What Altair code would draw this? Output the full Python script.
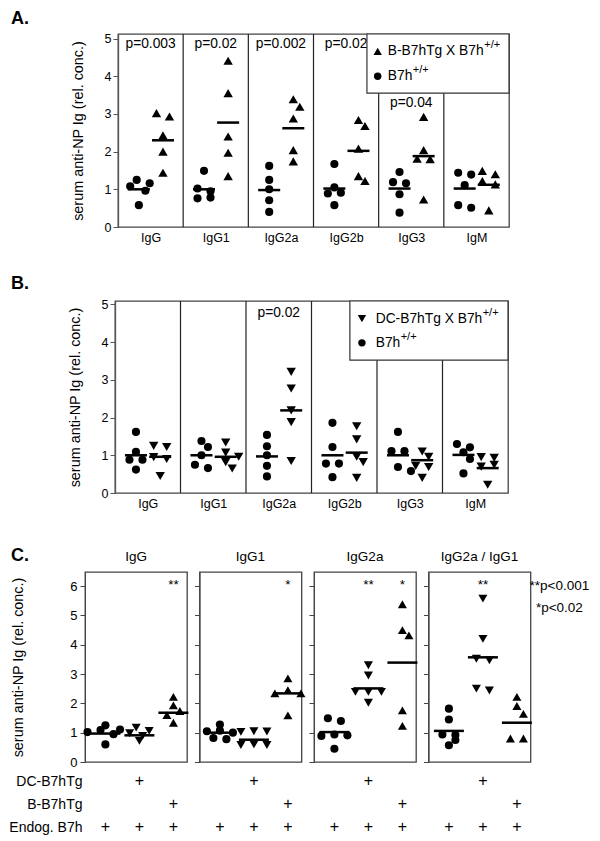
import altair as alt
import pandas as pd

FONT = "Liberation Sans"

# ---------------- data ----------------
categories = ["IgG", "IgG1", "IgG2a", "IgG2b", "IgG3", "IgM"]

# Panel A : B7h+/+ (circles) vs B-B7hTg X B7h+/+ (up triangles)
a_wt = [
    [1.25, 1.16, 1.08, 0.96, 0.58],
    [1.49, 1.02, 0.95, 0.78, 0.76],
    [1.62, 1.25, 1.00, 0.71, 0.40],
    [1.67, 1.05, 0.91, 0.89, 0.58],
    [1.46, 1.19, 1.16, 0.87, 0.38],
    [1.44, 1.39, 1.11, 0.58, 0.51],
]
a_wt_mean = [1.00, 1.00, 0.98, 1.02, 1.02, 1.02]
a_tg = [
    [3.02, 2.93, 2.43, 2.00, 1.44],
    [4.41, 3.55, 2.40, 1.97, 1.35],
    [3.39, 3.19, 2.88, 2.04, 1.74],
    [2.84, 2.68, 2.08, 1.35, 1.22],
    [2.92, 2.04, 1.81, 1.80, 0.73],
    [1.49, 1.40, 1.22, 1.13, 0.44],
]
a_tg_mean = [2.30, 2.77, 2.62, 2.02, 1.88, 1.12]
a_pvals = ["p=0.003", "p=0.02", "p=0.002", "p=0.02", "p=0.04", ""]
a_pval_y = [4.85, 4.85, 4.85, 4.85, 3.28, 0]
a_legend = ["B-B7hTg X B7h", "B7h"]

# Panel B : B7h+/+ (circles) vs DC-B7hTg X B7h+/+ (down triangles)
b_wt = [
    [1.62, 1.09, 0.88, 0.88, 0.62],
    [1.38, 1.22, 1.00, 0.75, 0.66],
    [1.54, 1.24, 1.00, 0.72, 0.44],
    [1.86, 1.22, 0.78, 0.78, 0.42],
    [1.62, 1.11, 1.11, 0.69, 0.58],
    [1.30, 1.21, 1.08, 0.90, 0.52],
]
b_wt_mean = [1.00, 1.00, 0.97, 1.00, 1.00, 1.01]
b_tg = [
    [1.25, 1.22, 0.95, 0.90, 0.45],
    [1.34, 1.07, 0.96, 0.82, 0.65],
    [3.21, 2.77, 2.19, 1.88, 0.85],
    [1.77, 1.42, 0.96, 0.82, 0.40],
    [1.10, 0.96, 0.72, 0.69, 0.40],
    [0.95, 0.93, 0.75, 0.70, 0.22],
]
b_tg_mean = [0.96, 0.96, 2.19, 1.07, 0.87, 0.66]
b_pvals = ["", "", "p=0.02", "", "", ""]
b_pval_y = [0, 0, 4.76, 0, 0, 0]
b_legend = ["DC-B7hTg X B7h", "B7h"]

# Panel C
c_titles = ["IgG", "IgG1", "IgG2a", "IgG2a / IgG1"]
c_wt = [
    [1.25, 1.11, 1.09, 1.02, 0.95, 0.60],
    [1.28, 1.07, 1.05, 1.00, 0.82, 0.78],
    [1.49, 1.40, 0.94, 0.91, 0.89, 0.45],
    [1.82, 1.45, 0.94, 0.92, 0.75, 0.57],
]
c_wt_mean = [0.97, 1.00, 1.02, 1.06]
c_dc = [
    [1.17, 1.06, 0.98, 0.89, 0.72],
    [1.05, 1.04, 1.03, 0.60, 0.58, 0.58],
    [3.30, 2.95, 2.39, 2.39, 2.39, 2.02],
    [5.57, 4.20, 3.52, 3.47, 2.50, 2.44],
]
c_dc_mean = [0.91, 0.76, 2.51, 3.57]
c_b = [
    [2.22, 1.93, 1.74, 1.60, 1.34],
    [2.85, 2.45, 2.34, 2.34, 1.59],
    [5.38, 4.50, 4.32, 1.76, 1.23],
    [2.22, 1.91, 1.64, 0.80, 0.80],
]
c_b_mean = [1.68, 2.34, 3.39, 1.34]
c_sig = [["", "", "**"], ["", "", "*"], ["", "**", "*"], ["", "**", ""]]
c_rows = ["DC-B7hTg", "B-B7hTg", "Endog. B7h"]
c_table = [[0, 1, 0], [0, 0, 1], [1, 1, 1]]
c_notes = ["**p<0.001", "*p<0.02"]

YTITLE = "serum anti-NP Ig (rel. conc.)"


def dodge(values, px_y, px_x, diam=8.0, step=6.5):
    """simple beeswarm: horizontal offsets (data units) so markers do not overlap"""
    n = len(values)
    order = sorted(range(n), key=lambda k: -values[k])
    placed = {}
    for k in order:
        ypx = values[k] * px_y
        cands = [0.0]
        for j in range(1, 6):
            cands += [j * step, -j * step]
        for c in cands:
            if all((ypx - values[m] * px_y) ** 2 + (c - placed[m]) ** 2 >= diam ** 2 for m in placed):
                break
        placed[k] = c
    visited = set()
    for k in order:
        if k in visited:
            continue
        row = [k]
        visited.add(k)
        changed = True
        while changed:
            changed = False
            for m in order:
                if m not in visited and any(abs(values[m] - values[r]) * px_y < diam * 0.5 for r in row):
                    row.append(m)
                    visited.add(m)
                    changed = True
        if len(row) > 1:
            mu = sum(placed[r] for r in row) / len(row)
            for r in row:
                placed[r] -= mu
    return [placed[k] / px_x for k in range(n)]


label_expr = "[" + ",".join("'" + c + "'" for c in categories) + "][floor(datum.value)]"


def dot_panel(wt, wt_mean, tg, tg_mean, pvals, pval_y, tg_shape,
              leg_box, leg_sym_x, leg_text_x, leg_rows_y, leg_texts, leg_sup_dx,
              width, height, ymax):
    n = len(categories)
    px_x = width / n
    px_y = height / ymax
    pos = [0.32, 0.69]
    xs = alt.Scale(domain=[0, n], nice=False, zero=False)
    ys = alt.Scale(domain=[0, ymax], nice=False, zero=False)
    xaxis = alt.Axis(values=[i + 0.5 for i in range(n)], labelExpr=label_expr, ticks=False,
                     domain=False, grid=False, labelFontSize=12.5, labelPadding=4, title=None,
                     labelColor="black")
    yaxis = alt.Axis(values=[0, 1, 2, 3, 4, 5], grid=False, tickSize=5, labelPadding=2,
                     labelFontSize=12.5, labelColor="black", domainColor="#555", tickColor="#555",
                     domainWidth=1.3, title=YTITLE, titleFontSize=14.4, titleFontWeight="normal",
                     titlePadding=19, titleColor="black")
    X = alt.X("x:Q", scale=xs, axis=xaxis)
    Y = alt.Y("y:Q", scale=ys, axis=yaxis)

    pts_wt, pts_tg, means, ptxt = [], [], [], []
    for i in range(n):
        for v, o in zip(wt[i], dodge(wt[i], px_y, px_x)):
            pts_wt.append({"x": i + pos[0] + o, "y": v})
        for v, o in zip(tg[i], dodge(tg[i], px_y, px_x)):
            pts_tg.append({"x": i + pos[1] + o, "y": v})
        means.append({"x": i + pos[0], "y": wt_mean[i]})
        means.append({"x": i + pos[1], "y": tg_mean[i]})
        if pvals[i]:
            ptxt.append({"x": i + 0.5, "y": pval_y[i], "t": pvals[i]})

    div = alt.Chart(pd.DataFrame({"x": [float(i) for i in range(1, n)]})).mark_rule(
        color="#222", strokeWidth=1.2).encode(x=X)
    c1 = alt.Chart(pd.DataFrame(pts_wt)).mark_point(
        shape="circle", filled=True, size=66, color="black", opacity=1).encode(x=X, y=Y)
    c2 = alt.Chart(pd.DataFrame(pts_tg)).mark_point(
        shape=tg_shape, filled=True, size=88, color="black", opacity=1).encode(x=X, y=Y)
    mt = alt.Chart(pd.DataFrame(means)).mark_tick(
        orient="horizontal", size=22, thickness=2.5, color="black", opacity=1).encode(x=X, y=Y)
    pt = alt.Chart(pd.DataFrame(ptxt)).mark_text(
        fontSize=13.8, baseline="middle", align="center", color="black").encode(x=X, y=Y, text="t:N")
    box = alt.Chart(pd.DataFrame([{"x": leg_box[0], "x2": float(n), "y": leg_box[1], "y2": ymax}])).mark_rect(
        fill="white", stroke="#333", strokeWidth=1.2).encode(x=X, x2=alt.X2("x2"), y=Y, y2=alt.Y2("y2"))
    ls1 = alt.Chart(pd.DataFrame([{"x": leg_sym_x, "y": leg_rows_y[0]}])).mark_point(
        shape=tg_shape, filled=True, size=70, color="black", opacity=1).encode(x=X, y=Y)
    ls2 = alt.Chart(pd.DataFrame([{"x": leg_sym_x, "y": leg_rows_y[1]}])).mark_point(
        shape="circle", filled=True, size=55, color="black", opacity=1).encode(x=X, y=Y)
    layers = [div, c1, c2, mt, pt, box, ls1, ls2]
    for r in range(2):
        dfr = pd.DataFrame([{"x": leg_text_x, "y": leg_rows_y[r], "t": leg_texts[r], "s": "+/+"}])
        layers.append(alt.Chart(dfr).mark_text(align="left", baseline="middle", fontSize=13.8,
                                               color="black").encode(x=X, y=Y, text="t:N"))
        layers.append(alt.Chart(dfr).mark_text(align="left", baseline="middle", fontSize=11,
                                               dx=leg_sup_dx[r], dy=-6, color="black").encode(
            x=X, y=Y, text="s:N"))
    return alt.layer(*layers).properties(width=width, height=height)


def label_cell(text, w, dx, dy):
    """narrow empty cell on the left that carries the panel letter"""
    return alt.Chart(pd.DataFrame({"t": [text]})).mark_text(
        fontSize=18, fontWeight="bold", align="left", baseline="middle", color="black").encode(
        x=alt.value(dx), y=alt.value(dy), text="t:N").properties(
        width=w, height=1, view=alt.ViewBackground(strokeOpacity=0))


panelA = dot_panel(a_wt, a_wt_mean, a_tg, a_tg_mean, a_pvals, a_pval_y, "triangle-up",
                   (3.82, 3.55), 3.985, 4.14, [4.66, 4.0], a_legend, [96.5, 25],
                   391, 193, 5.12)
panelB = dot_panel(b_wt, b_wt_mean, b_tg, b_tg_mean, b_pvals, b_pval_y, "triangle-down",
                   (3.586, 3.52), 3.77, 3.98, [4.62, 3.98], b_legend, [107, 25],
                   393, 192, 5.09)

A_wrap = alt.hconcat(label_cell("A.", 33, -74, -15), panelA, spacing=0, bounds="flush")
B_wrap = alt.hconcat(label_cell("B.", 30, -74, -17), panelB, spacing=0, bounds="flush")

# ---------------- Panel C ----------------
CW, CH, CYMAX = 102, 190, 6.48
CGAP = 12.5
cxs = alt.Scale(domain=[-0.1, 2.9], nice=False, zero=False)


def c_plot(k):
    px_x = CW / 3.0
    px_y = CH / CYMAX
    ys = alt.Scale(domain=[0, CYMAX], nice=False, zero=False)
    if k == 0:
        yaxis = alt.Axis(values=list(range(7)), grid=False, tickSize=5, labelPadding=3,
                         labelFontSize=13, labelColor="black", domainColor="#444", tickColor="#444",
                         title=YTITLE, titleFontSize=14.4, titleFontWeight="normal",
                         titlePadding=44, titleColor="black")
    else:
        yaxis = alt.Axis(values=list(range(7)), grid=False, tickSize=5, labels=False,
                         domainColor="#444", tickColor="#444", title=None)
    X = alt.X("x:Q", scale=cxs, axis=None)
    Y = alt.Y("y:Q", scale=ys, axis=yaxis)
    groups = [(c_wt[k], c_wt_mean[k], "circle", 66),
              (c_dc[k], c_dc_mean[k], "triangle-down", 82),
              (c_b[k], c_b_mean[k], "triangle-up", 82)]
    layers = []
    means = []
    for g, (vals, mean, shape, size) in enumerate(groups):
        pts = [{"x": g + 0.5 + o, "y": v} for v, o in zip(vals, dodge(vals, px_y, px_x))]
        layers.append(alt.Chart(pd.DataFrame(pts)).mark_point(
            shape=shape, filled=True, size=size, color="black", opacity=1).encode(x=X, y=Y))
        means.append({"x": g + 0.5, "y": mean})
    layers.append(alt.Chart(pd.DataFrame(means)).mark_tick(
        orient="horizontal", size=30, thickness=2.5, color="black", opacity=1).encode(x=X, y=Y))
    sig = [{"x": g + 0.5, "y": 6.02, "t": s} for g, s in enumerate(c_sig[k]) if s]
    if sig:
        layers.append(alt.Chart(pd.DataFrame(sig)).mark_text(
            fontSize=13.5, baseline="middle", align="center", color="black").encode(x=X, y=Y, text="t:N"))
    # sub-panel heading
    layers.append(alt.Chart(pd.DataFrame({"t": [c_titles[k]]})).mark_text(
        fontSize=13.5, align="center", baseline="middle", color="black").encode(
        x=alt.value(CW / 2), y=alt.value(-15), text="t:N"))
    if k == 0:
        layers.append(alt.Chart(pd.DataFrame({"t": ["C."]})).mark_text(
            fontSize=18, fontWeight="bold", align="left", baseline="middle", color="black").encode(
            x=alt.value(-74), y=alt.value(-16), text="t:N"))
    if k == 3:
        notes = pd.DataFrame({"x": [3.75, 3.75], "y": [6.0, 5.25], "t": c_notes})
        layers.append(alt.Chart(notes).mark_text(
            fontSize=13.5, baseline="middle", align="center", color="black").encode(x=X, y=Y, text="t:N"))
    return alt.layer(*layers).properties(width=CW, height=CH)


def c_table_chart(k):
    rows = []
    for r, name in enumerate(c_rows):
        for g in range(3):
            if c_table[r][g]:
                rows.append({"x": g + 0.5, "row": name, "t": "+"})
    if k == 0:
        yaxis = alt.Axis(title=None, domain=False, ticks=False, labelFontSize=14, labelPadding=3,
                         labelColor="black")
    else:
        yaxis = None
    return alt.Chart(pd.DataFrame(rows)).mark_text(fontSize=16, color="black", baseline="middle").encode(
        x=alt.X("x:Q", scale=cxs, axis=None),
        y=alt.Y("row:N", scale=alt.Scale(domain=c_rows, type="point", padding=0.24, align=1),
                axis=yaxis),
        text="t:N").properties(width=CW, height=57, view=alt.ViewBackground(strokeOpacity=0))


C_plots = alt.hconcat(*[c_plot(k) for k in range(4)], spacing=CGAP, bounds="flush")
C_tables = alt.hconcat(*[c_table_chart(k) for k in range(4)], spacing=CGAP, bounds="flush")
C = alt.vconcat(C_plots, C_tables, spacing=0)

AB = alt.vconcat(A_wrap, B_wrap, spacing=30)
chart = alt.vconcat(AB, C, spacing=35).properties(
    padding={"left": 0, "top": 2, "right": 0, "bottom": 0})
chart = (chart.configure(font=FONT)
         .configure_view(stroke="#444", strokeWidth=1.3)
         .configure_axis(labelFont=FONT, titleFont=FONT)
         .configure_title(font=FONT)
         .configure_text(font=FONT))

chart.save("out.html", embed_options={"renderer": "svg", "actions": False})
